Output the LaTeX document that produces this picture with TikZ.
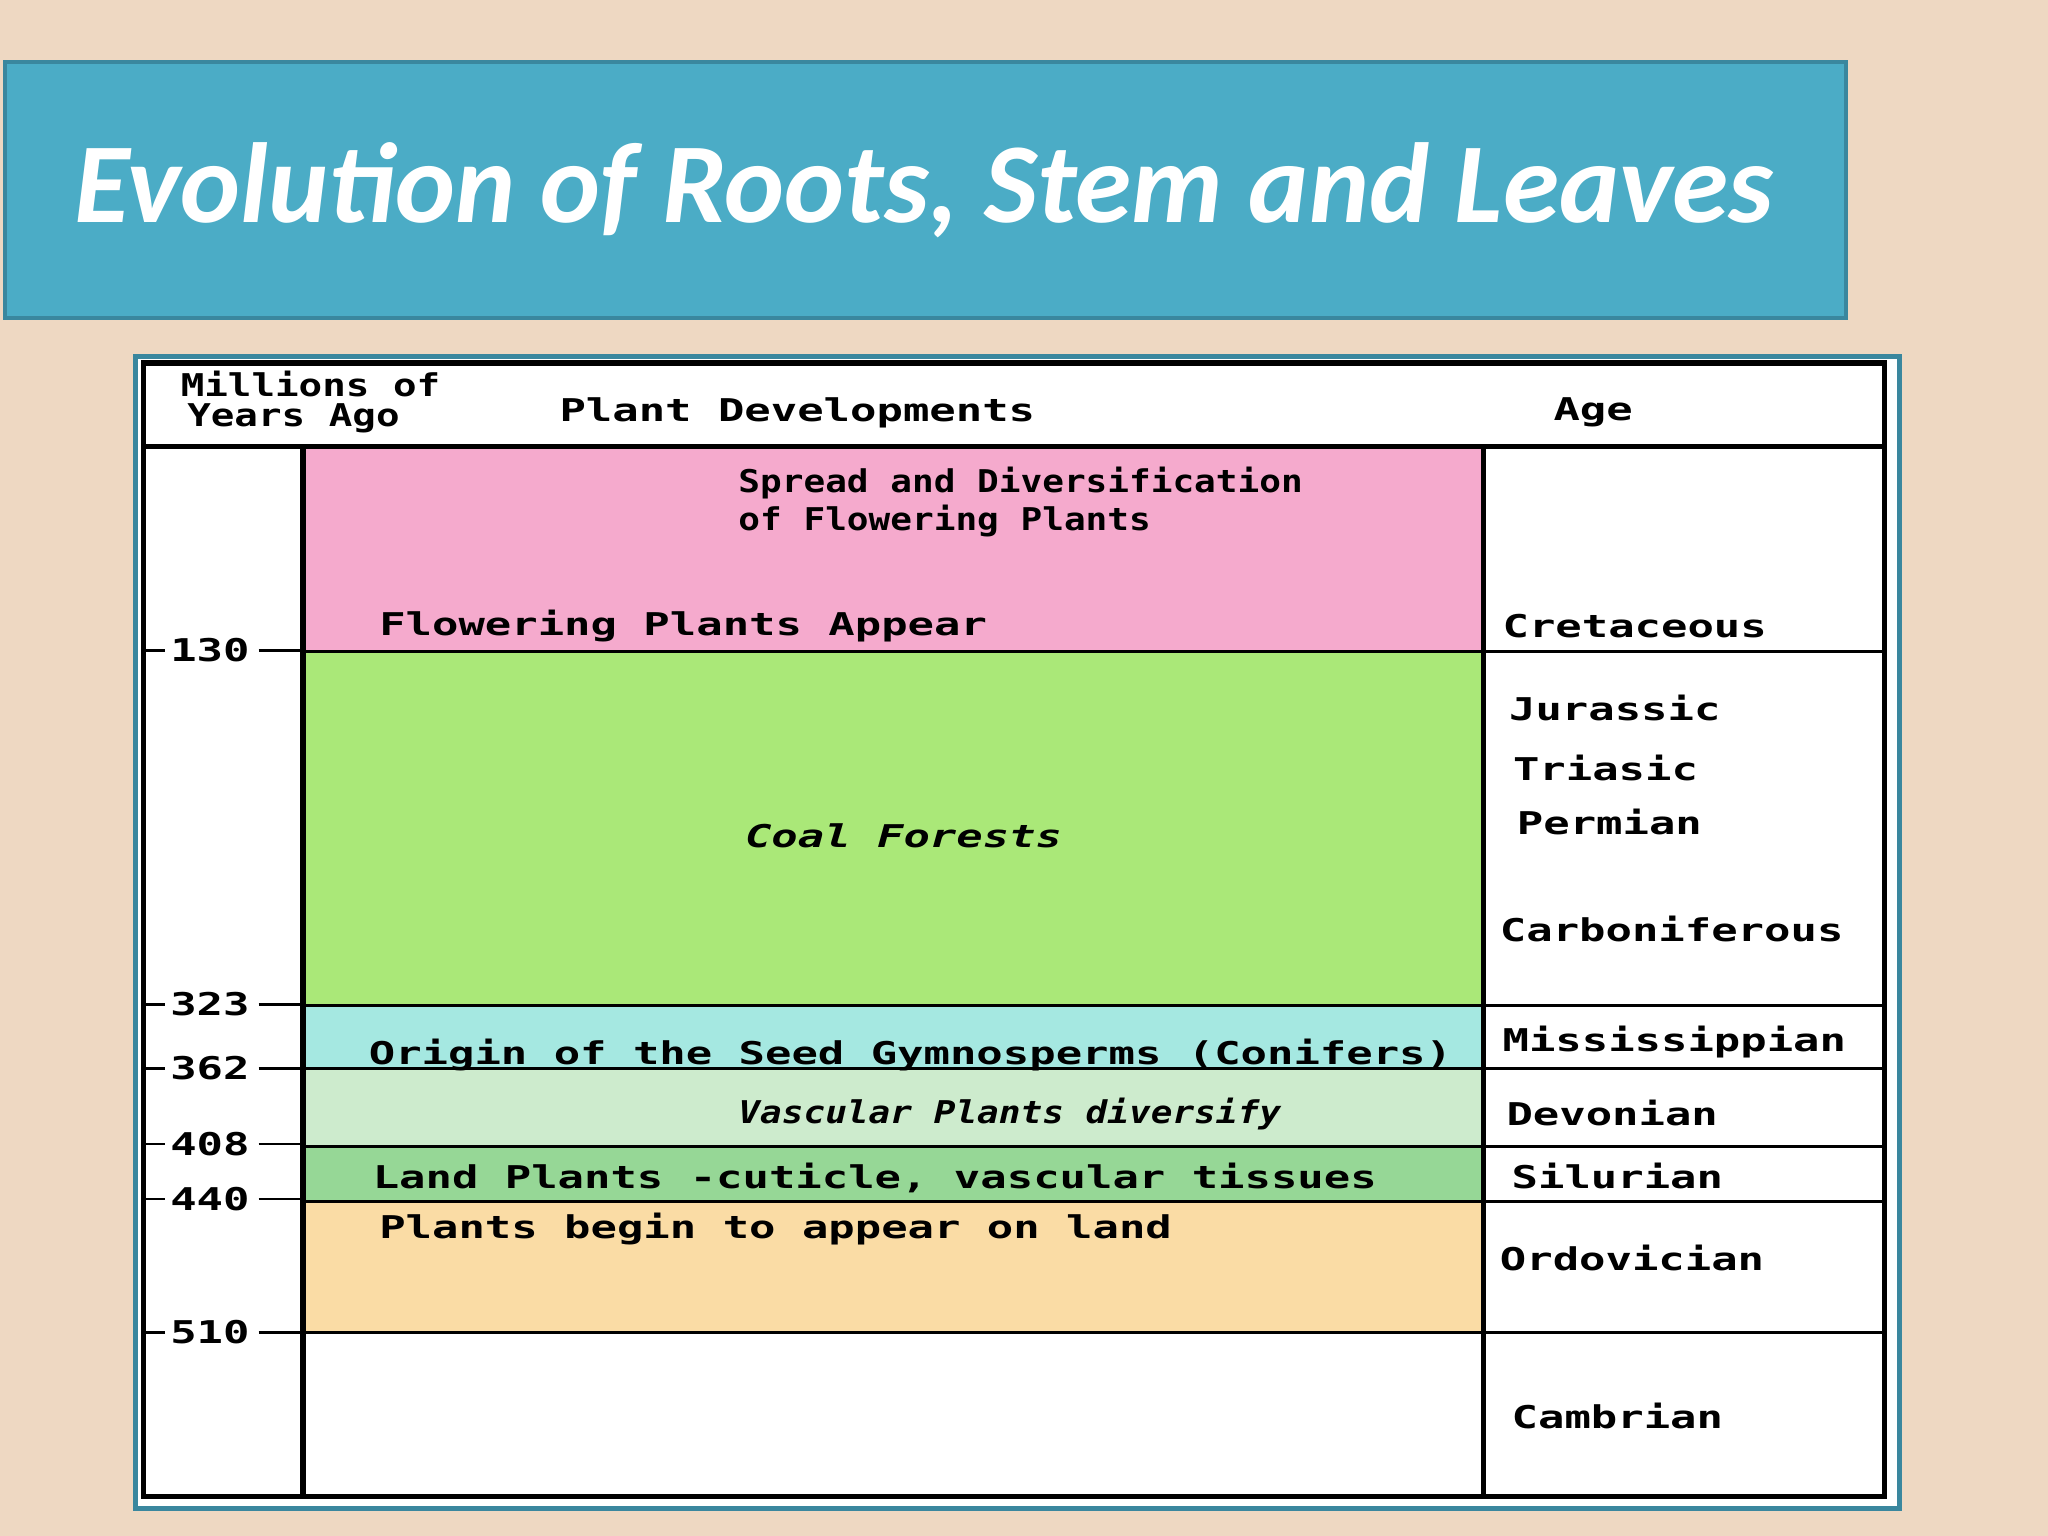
\documentclass[tikz,border=0pt]{standalone}
\usepackage{fontspec}
\setmainfont{Carlito}
\newfontfamily\pix[FakeStretch=1.4]{DejaVu Sans Mono}
\newfontfamily\pixh[FakeStretch=1.25]{DejaVu Sans Mono}
\newfontfamily\pixn[FakeStretch=1.15]{DejaVu Sans Mono}
\begin{document}
\begin{tikzpicture}[x=0.5pt,y=-0.5pt,
  lab/.style={anchor=west,inner sep=0pt,font=\pix\bfseries\fontsize{12}{14}\selectfont},
  labn/.style={anchor=west,inner sep=0pt,font=\pixn\bfseries\fontsize{12}{14}\selectfont},
  thin/.style={line width=1pt,black},
  thick/.style={line width=2pt,black}]
\useasboundingbox (0,0) rectangle (1568,1176);
\fill[color={rgb,255:red,238;green,216;blue,194}] (0,0) rectangle (1568,1176);
% title
\node[draw={rgb,255:red,58;green,135;blue,158},line width=1.5pt,fill={rgb,255:red,75;green,172;blue,198},minimum width=705pt,minimum height=98pt,anchor=north west,inner sep=0pt] (title) at (2,46) {};
\node[anchor=west,text=white,font=\bfseries\itshape\fontsize{43.6}{50}\selectfont] (tt) at (50,146) {Evolution of Roots, Stem and Leaves};
% chart frame
\node[draw={rgb,255:red,58;green,135;blue,158},line width=2pt,fill=white,minimum width=675pt,minimum height=441pt,anchor=north west,inner sep=0pt] (chart) at (102,271) {};
% bands
\fill[color={rgb,255:red,245;green,170;blue,205}] (232,343) rectangle (1136,499);
\fill[color={rgb,255:red,170;green,232;blue,120}] (232,499) rectangle (1136,770);
\fill[color={rgb,255:red,165;green,232;blue,225}] (232,770) rectangle (1136,818);
\fill[color={rgb,255:red,205;green,235;blue,205}] (232,818) rectangle (1136,878);
\fill[color={rgb,255:red,150;green,215;blue,150}] (232,878) rectangle (1136,920);
\fill[color={rgb,255:red,250;green,220;blue,165}] (232,920) rectangle (1136,1020);
% lines
\draw[thick] (110,278) rectangle (1443,1146);
\draw[thick] (110,342) -- (1443,342);
\draw[thick] (232,342) -- (232,1146);
\draw[thick] (1136,342) -- (1136,1146);
\foreach \y in {499,770,818,878,920,1020} \draw[thin] (232,\y) -- (1443,\y);
\foreach \y/\t in {498/130,769/323,818/362,876/408,918/440,1020/510}{
  \draw[thin] (110,\y) -- (126,\y);
  \draw[thin] (198,\y) -- (232,\y);
  \node[lab] at (130,\y) {\t};
}
% headers
\node[lab,font=\pixh\bfseries\fontsize{12}{14}\selectfont] (h1) at (138,294) {Millions of};
\node[lab,font=\pixh\bfseries\fontsize{12}{14}\selectfont] (h2) at (143,320) {Years Ago};
\node[lab] (h3) at (428,316) {Plant Developments};
\node[lab] (h4) at (1189,316) {Age};
% developments
\node[labn] (d1) at (565,370) {Spread and Diversification};
\node[labn] (d2) at (565,399) {of Flowering Plants};
\node[lab] (d3) at (290,479) {Flowering Plants Appear};
\node[lab,font=\pix\bfseries\itshape\fontsize{12}{14}\selectfont] (d4) at (570,640) {Coal Forests};
\node[lab] (d5) at (282,808) {Origin of the Seed  Gymnosperms (Conifers)};
\node[labn,font=\pixn\bfseries\itshape\fontsize{12}{14}\selectfont] (d6) at (565,853) {Vascular Plants diversify};
\node[lab] (d7) at (285,902) {Land Plants -cuticle, vascular tissues};
\node[lab] (d8) at (290,941) {Plants begin to appear on land};
% ages
\node[lab] (a1) at (1150,479) {Cretaceous};
\node[lab] (a2) at (1155,542) {Jurassic};
\node[lab] (a3) at (1158,588) {Triasic};
\node[lab] (a4) at (1161,629) {Permian};
\node[lab] (a5) at (1148,711) {Carboniferous};
\node[lab] (a6) at (1150,798) {Mississippian};
\node[lab] (a7) at (1153,852) {Devonian};
\node[lab] (a8) at (1157,900) {Silurian};
\node[lab] (a9) at (1148,963) {Ordovician};
\node[lab] (a10) at (1157,1084) {Cambrian};
\end{tikzpicture}
\end{document}
